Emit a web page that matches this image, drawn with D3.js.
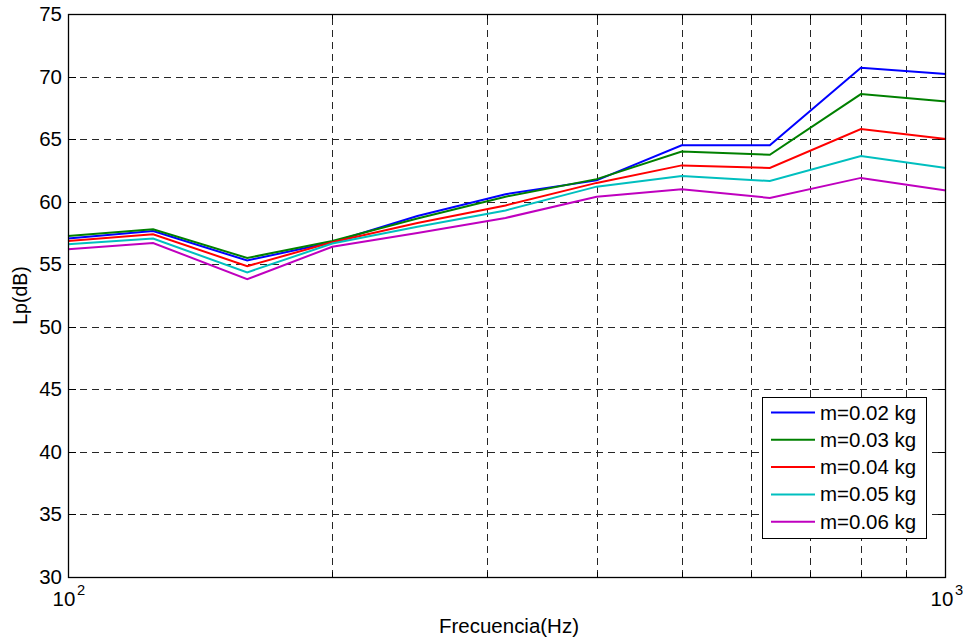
<!DOCTYPE html>
<html>
<head>
<meta charset="utf-8">
<script src="https://cdn.jsdelivr.net/npm/d3@7/dist/d3.min.js"></script>
<style>
  html, body { margin: 0; padding: 0; background: #fff; }
  svg { display: block; }
  text { font-family: "Liberation Sans", Arial, Helvetica, sans-serif; fill: #000; }
</style>
</head>
<body>
<svg id="chart" width="963" height="642"></svg>
<script>
// Third-octave band centre frequencies (Hz)
const frequencies = [100, 125, 160, 200, 250, 315, 400, 500, 630, 800, 1000];

// Sound pressure level Lp (dB) for each mass
const lp_m002 = [57.05, 57.65, 55.3, 56.75, 58.85, 60.6, 61.7, 64.5, 64.5, 70.7, 70.2];
const lp_m003 = [57.25, 57.8, 55.5, 56.85, 58.65, 60.4, 61.8, 64.0, 63.75, 68.6, 68.0];
const lp_m004 = [56.85, 57.4, 54.85, 56.75, 58.3, 59.7, 61.5, 62.9, 62.7, 65.8, 65.0];
const lp_m005 = [56.6, 57.05, 54.35, 56.65, 58.0, 59.3, 61.2, 62.05, 61.65, 63.65, 62.7];
const lp_m006 = [56.2, 56.7, 53.8, 56.4, 57.5, 58.7, 60.4, 61.0, 60.3, 61.9, 60.9];

const seriesNames = ["m=0.02 kg", "m=0.03 kg", "m=0.04 kg", "m=0.05 kg", "m=0.06 kg"];
const seriesColors = ["#0000ff", "#008000", "#ff0000", "#00bfbf", "#bf00bf"];
const seriesValues = [lp_m002, lp_m003, lp_m004, lp_m005, lp_m006];

const yTicks = [30, 35, 40, 45, 50, 55, 60, 65, 70, 75];
const xMinorTicks = [200, 300, 400, 500, 600, 700, 800, 900];
const xMajorTicks = [{ v: 100, exp: "2" }, { v: 1000, exp: "3" }];

const svg = d3.select("#chart");
const pL = 68, pR = 946, pT = 14, pB = 577;
const FS = 19.5, SX = 1.05;

const x = d3.scaleLog().domain([100, 1000]).range([pL, pR]);
const y = d3.scaleLinear().domain([30, 75]).range([pB, pT]);

// helper: text horizontally stretched around its anchor point
function label(g, px, py, str, anchor, size) {
  return g.append("text")
    .attr("transform", `translate(${px},${py}) scale(${SX},1)`)
    .attr("text-anchor", anchor || "start")
    .style("font-size", (size || FS) + "px")
    .text(str);
}

// background of the axes
svg.append("rect").attr("x", pL).attr("y", pT)
  .attr("width", pR - pL).attr("height", pB - pT).attr("fill", "#fff");

// dashed grid
const grid = svg.append("g").attr("stroke", "#262626").attr("stroke-width", 1)
  .attr("stroke-dasharray", "7,5").attr("fill", "none");
grid.selectAll("line.h").data(yTicks.slice(1, -1)).join("line")
  .attr("x1", pL).attr("x2", pR)
  .attr("y1", d => Math.round(y(d)) + 0.5).attr("y2", d => Math.round(y(d)) + 0.5);
grid.selectAll("line.v").data(xMinorTicks).join("line")
  .attr("y1", pB).attr("y2", pT)
  .attr("x1", d => Math.round(x(d)) + 0.5).attr("x2", d => Math.round(x(d)) + 0.5);

// tick marks (inward) on all four sides
const ticks = svg.append("g").attr("stroke", "#000").attr("stroke-width", 1);
yTicks.forEach(v => {
  const yy = Math.round(y(v)) + 0.5;
  ticks.append("line").attr("x1", pL).attr("x2", pL + 8).attr("y1", yy).attr("y2", yy);
  ticks.append("line").attr("x1", pR - 8).attr("x2", pR).attr("y1", yy).attr("y2", yy);
});
xMinorTicks.forEach(v => {
  const xx = Math.round(x(v)) + 0.5;
  ticks.append("line").attr("x1", xx).attr("x2", xx).attr("y1", pB).attr("y2", pB - 5);
  ticks.append("line").attr("x1", xx).attr("x2", xx).attr("y1", pT).attr("y2", pT + 5);
});

// data lines
const line = d3.line().x((d, i) => x(frequencies[i])).y(d => y(d));
const plot = svg.append("g");
seriesValues.forEach((vals, k) => {
  plot.append("path").datum(vals)
    .attr("d", line)
    .attr("fill", "none")
    .attr("stroke", seriesColors[k])
    .attr("stroke-width", 2)
    .attr("stroke-linejoin", "miter");
});

// axes box
svg.append("rect").attr("x", pL + 0.5).attr("y", pT + 0.5)
  .attr("width", pR - pL - 1).attr("height", pB - pT)
  .attr("fill", "none").attr("stroke", "#000").attr("stroke-width", 1.3);

// y tick labels
const labels = svg.append("g");
yTicks.forEach(v => {
  label(labels, 62, y(v) + 7, String(v), "end");
});

// x tick labels: powers of ten
xMajorTicks.forEach(t => {
  const cx = x(t.v);
  label(labels, cx - 4, 606, "10", "middle");
  label(labels, cx + 9, 595, t.exp, "start", 14);
});

// axis titles
label(labels, (pL + pR) / 2 + 2, 633, "Frecuencia(Hz)", "middle");
labels.append("text")
  .attr("transform", `translate(27,${(pT + pB) / 2}) rotate(-90)`)
  .attr("text-anchor", "middle")
  .style("font-size", FS + "px")
  .text("Lp(dB)");

// legend
const lg = svg.append("g");
const lgX = 762, lgY = 397, lgW = 164, lgH = 141;
lg.append("rect").attr("x", lgX + 0.5).attr("y", lgY + 0.5)
  .attr("width", lgW).attr("height", lgH)
  .attr("fill", "#fff").attr("stroke", "#000").attr("stroke-width", 1);
seriesNames.forEach((name, k) => {
  const ry = lgY + 15.5 + k * 27.3;
  lg.append("line").attr("x1", 771).attr("x2", 815).attr("y1", ry).attr("y2", ry)
    .attr("stroke", seriesColors[k]).attr("stroke-width", 2);
  label(lg, 820, ry + 7, name, "start");
});
</script>
</body>
</html>
